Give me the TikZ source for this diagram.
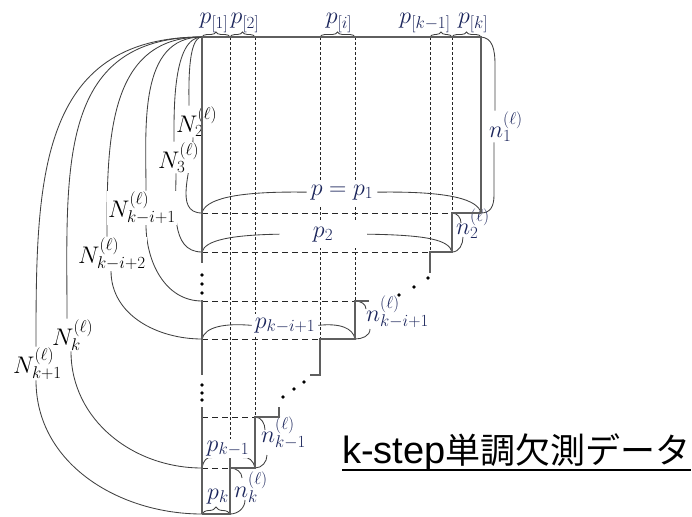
\RequirePackage{fix-cm}
\documentclass[tikz,border=0pt]{standalone}
\usepackage{fontspec}
\newfontfamily\jpfont{Noto Sans CJK JP}
\newfontfamily\lsans{Liberation Sans}
\usetikzlibrary{decorations.pathreplacing,backgrounds}
\DeclareMathSizes{24}{24}{17}{13}
\definecolor{labcol}{RGB}{28,38,92}
\definecolor{linecol}{RGB}{95,95,95}
\begin{document}
\begin{tikzpicture}[x=1pt,y=1pt,
  lab/.style={font=\fontsize{24}{28}\selectfont, inner sep=1pt, text=labcol},
  Nlab/.style={font=\fontsize{24}{28}\selectfont, inner sep=1pt, text=black, fill=white, anchor=base west},
  plab/.style={lab, fill=white, anchor=base},
  nlab/.style={lab, anchor=base west},
  solidln/.style={draw=linecol, line width=1.3pt},
  rowdash/.style={draw=black!85, line width=0.9pt, dash pattern=on 6pt off 4pt},
  coldash/.style={draw=black!85, line width=0.7pt, dash pattern=on 3pt off 2pt},
  curve/.style={draw=black!75, line width=0.85pt},
  upcurve/.style={out=180, in=90, looseness=#1},
  upcurve/.default=1,
  brc/.style={draw=black!75, line width=0.85pt},
  topbrace/.style={brc, decorate, decoration={brace, amplitude=5pt}},
  dotmark/.style={circle, fill=black, inner sep=0pt, minimum size=3.6pt},
]
\useasboundingbox (0,0) rectangle (692,-516);

% corner and column coordinates
\coordinate (C) at (202,-37);
\coordinate (t2) at (230,-37);
\coordinate (t3) at (255,-37);
\coordinate (ti1) at (320,-37);
\coordinate (ti2) at (355,-37);
\coordinate (tk1) at (430,-37);
\coordinate (tk2) at (452,-37);
\coordinate (TR) at (481,-37);
% row corners on the left edge
\coordinate (L1) at (202,-213);
\coordinate (L2) at (202,-252);
\coordinate (L3) at (202,-301);
\coordinate (L4) at (202,-339);
\coordinate (L45) at (202,-417);
\coordinate (L5) at (202,-468);
\coordinate (L6) at (202,-514);
% right corners of rows
\coordinate (R1) at (481,-213);
\coordinate (S1) at (452,-213);
\coordinate (R2) at (452,-252);
\coordinate (S2) at (430,-252);
\coordinate (S2b) at (430,-273);
\coordinate (R3) at (355,-301);
\coordinate (R3b) at (369,-301);
\coordinate (R4) at (355,-339);
\coordinate (S4) at (320,-339);
\coordinate (S4b) at (320,-375);
\coordinate (S4c) at (310,-375);
\coordinate (U5) at (279,-407);
\coordinate (U5b) at (279,-417);
\coordinate (R5a) at (255,-417);
\coordinate (R5) at (255,-468);
\coordinate (S5) at (230,-468);
\coordinate (S5t) at (230,-458);
\coordinate (R6) at (230,-514);

% top labels
\node[lab, anchor=base] (lp1) at (214,-24) {$p_{[1]}$};
\node[lab, anchor=base] (lp2) at (245,-24) {$p_{[2]}$};
\node[lab, anchor=base] (lpi) at (339,-24) {$p_{[i]}$};
\node[lab, anchor=base] (lpk1) at (425,-24) {$p_{[k-1]}$};
\node[lab, anchor=base] (lpk) at (473,-24) {$p_{[k]}$};

% row labels
\node[plab, inner xsep=4pt, inner ysep=5pt] (r1) at (342,-195) {$p = p_1$};
\node[plab, minimum width=87pt, inner ysep=6pt] (r2) at (323,-237) {$p_2$};
\node[plab, inner xsep=3pt, inner ysep=4pt] (r3) at (285,-328) {$p_{k-i+1}$};
\node[plab, inner sep=1.5pt] (r5) at (228,-451) {$p_{k-1}$};
\node[lab, anchor=base] (r6) at (218,-499) {$p_k$};

% N labels
\node[Nlab] (N2) at (175,-132) {$N_2^{(\ell)}$};
\node[Nlab] (N3) at (157,-168) {$N_3^{(\ell)}$};
\node[Nlab] (Nki1) at (107,-217) {$N_{k-i+1}^{(\ell)}$};
\node[Nlab] (Nki2) at (77,-263) {$N_{k-i+2}^{(\ell)}$};
\node[Nlab] (Nk) at (51,-345) {$N_{k}^{(\ell)}$};
\node[Nlab] (Nk1) at (12,-373) {$N_{k+1}^{(\ell)}$};

% n labels
\node[nlab] (n1) at (488,-137) {$n_1^{(\ell)}$};
\node[nlab] (n2) at (455,-234) {$n_2^{(\ell)}$};
\node[nlab] (n3) at (365,-321) {$n_{k-i+1}^{(\ell)}$};
\node[nlab] (n5) at (260,-442) {$n_{k-1}^{(\ell)}$};
\node[nlab] (n6) at (233,-497) {$n_{k}^{(\ell)}$};

% title
\node[anchor=base west, inner sep=0pt] (title) at (342,-463)
  {\lsans\fontsize{38}{40}\selectfont k-step\jpfont\fontsize{35}{40}\selectfont 単調欠測データ};
\draw[line width=2pt] ([yshift=-6.5pt]title.base west) -- ([yshift=-6.5pt]title.base east);

\begin{pgfonlayer}{background}
  % N curves
  \draw[curve] (C) to[upcurve=0.55] ([xshift=14pt]N2.north west);
  \draw[curve] ([xshift=18pt]N2.south west) to[out=-90,in=180] (L1);
  \draw[curve] (C) to[upcurve=0.7] ([xshift=17pt]N3.north west);
  \draw[curve] ([xshift=19pt]N3.south west) to[out=-90,in=180] (L2);
  \draw[curve] (C) to[upcurve=1.0] ([xshift=39pt]Nki1.north west);
  \draw[curve] ([xshift=39pt]Nki1.south west) to[out=-90,in=180] (L3);
  \draw[curve] (C) to[upcurve=1.1] ([xshift=30pt]Nki2.north west);
  \draw[curve] ([xshift=34pt]Nki2.south west) to[out=-90,in=180] (L4);
  \draw[curve] (C) to[upcurve=1.2] ([xshift=16pt]Nk.north west);
  \draw[curve] ([xshift=20pt]Nk.south west) to[out=-90,in=180] (L5);
  \draw[curve] (C) to[upcurve=1.2] ([xshift=24pt]Nk1.north west);
  \draw[curve] ([xshift=24pt]Nk1.south west) to[out=-90,in=180] (L6);

  % dashed columns
  \draw[coldash] (t2) -- (S5t);
  \draw[coldash] (t3) -- (R5a);
  \draw[coldash] (ti1) -- (S4);
  \draw[coldash] (ti2) -- (R3);
  \draw[coldash] (tk1) -- (S2);
  \draw[coldash] (tk2) -- (S1);

  % dashed rows
  \draw[rowdash] (L1) -- (S1);
  \draw[rowdash] (L2) -- (S2);
  \draw[rowdash] (L3) -- (R3);
  \draw[rowdash] (L4) -- (S4);
  \draw[rowdash] (L45) -- (R5a);
  \draw[rowdash] (L5) -- (S5);

  % top braces
  \draw[topbrace] (C) -- (t2);
  \draw[topbrace] (t2) -- (t3);
  \draw[topbrace] (ti1) -- (ti2);
  \draw[topbrace] (tk1) -- (tk2);
  \draw[topbrace] (tk2) -- (TR);

  % row braces
  \draw[brc] (L1) .. controls (205,-200) and (232,-191) .. (r1.west);
  \draw[brc] (r1.east) .. controls (452,-191) and (478,-200) .. (R1);
  \draw[brc] (L2) .. controls (205,-240) and (232,-235) .. (r2.west);
  \draw[brc] (r2.east) .. controls (428,-235) and (449,-240) .. (R2);
  \draw[brc] (L4) .. controls (205,-327) and (224,-323) .. (r3.west);
  \draw[brc] (r3.east) .. controls (340,-323) and (353,-328) .. (R4);
  \draw[brc] (L5) .. controls (203,-461) and (207,-456) .. ([xshift=7pt]r5.south west);
  \draw[brc] ([xshift=-8pt]r5.south east) .. controls (248,-456) and (254,-461) .. (R5);
  \draw[brc, decorate, decoration={brace, amplitude=7pt}] (L6) -- (R6);

  % n braces
  \draw[brc] (TR) .. controls (492,-38) and (495,-48) .. (495,-65) -- ([xshift=7pt]n1.north west);
  \draw[brc] ([xshift=6pt]n1.south west) -- (494,-195) .. controls (494,-207) and (490,-213) .. (R1);
  \draw[brc] (S1) to[out=0,in=90] ([shift={(6,11)}]n2.base west);
  \draw[brc] ([shift={(8,-3)}]n2.base west) to[out=-90,in=0] (R2);
  \draw[brc] (R3) to[out=0,in=90] ([shift={(1,12)}]n3.base west);
  \draw[brc] ([shift={(5,-8)}]n3.base west) to[out=-90,in=0] (R4);
  \draw[brc] (R5a) to[out=0,in=90] ([shift={(5,12)}]n5.base west);
  \draw[brc] ([shift={(7,-13)}]n5.base west) to[out=-90,in=0] (R5);
  \draw[brc] (S5) to[out=0,in=90] ([shift={(9,19)}]n6.base west);
  \draw[brc] ([shift={(12,-3)}]n6.base west) to[out=-90,in=0] (R6);
\end{pgfonlayer}

% solid outline and stairs
\draw[solidln] (C) -- (202,-263);
\draw[solidln] (202,-300) -- (202,-375);
\draw[solidln] (202,-407) -- (L6);
\draw[solidln] (C) -- (TR) -- (R1);
\draw[solidln] (R1) -- (S1) -- (R2) -- (S2) -- (S2b);
\draw[solidln] (R3b) -- (R3) -- (R4) -- (S4) -- (S4b) -- (S4c);
\draw[solidln] (U5) -- (U5b) -- (R5a) -- (R5) -- (S5);
\draw[solidln] (S5t) -- (R6) -- (L6);

% ellipsis dots
\node[dotmark] (e1) at (202,-275) {};
\node[dotmark] (e2) at (202,-284) {};
\node[dotmark] (e3) at (202,-293) {};
\node[dotmark] (e4) at (202,-385) {};
\node[dotmark] (e5) at (202,-393) {};
\node[dotmark] (e6) at (202,-400) {};
\node[dotmark] (f1) at (428,-278) {};
\node[dotmark] (f2) at (414,-287) {};
\node[dotmark] (f3) at (399,-295) {};
\node[dotmark] (g1) at (304,-382) {};
\node[dotmark] (g2) at (294,-389) {};
\node[dotmark] (g3) at (283,-397) {};
\end{tikzpicture}
\end{document}
